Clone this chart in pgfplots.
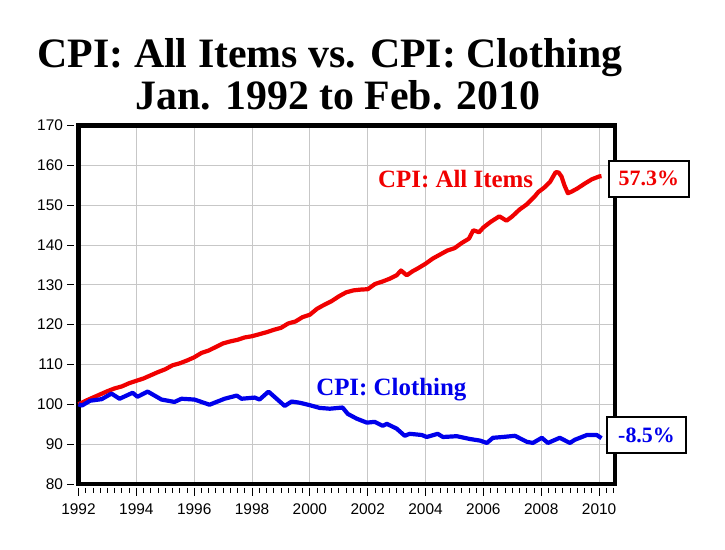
\documentclass[border=0pt]{standalone}
\usepackage{pgfplots}
\pgfplotsset{compat=1.18}
\usepackage{fontspec}
\setmainfont{Liberation Serif}
\newfontfamily\sansf{Liberation Sans}
\definecolor{cpired}{RGB}{240,0,0}
\definecolor{cpiblue}{RGB}{0,0,235}

\pgfplotstableread{
x y
1992.0 100.0
1992.25 100.9
1992.5 101.7
1992.75 102.5
1993.0 103.3
1993.25 104.0
1993.5 104.5
1993.75 105.3
1994.0 105.9
1994.25 106.5
1994.5 107.3
1994.75 108.1
1995.0 108.8
1995.25 109.8
1995.5 110.3
1995.75 111.0
1996.0 111.8
1996.25 112.9
1996.5 113.5
1996.75 114.4
1997.0 115.3
1997.25 115.8
1997.5 116.2
1997.75 116.8
1998.0 117.1
1998.25 117.6
1998.5 118.1
1998.75 118.7
1999.0 119.2
1999.25 120.3
1999.5 120.8
1999.75 121.9
2000.0 122.5
2000.25 124.0
2000.5 125.0
2000.75 125.9
2001.0 127.1
2001.25 128.1
2001.5 128.6
2001.75 128.8
2002.0 128.9
2002.25 130.2
2002.5 130.8
2002.75 131.5
2003.0 132.4
2003.15 133.6
2003.35 132.4
2003.55 133.4
2003.75 134.2
2004.0 135.3
2004.25 136.6
2004.5 137.6
2004.75 138.6
2005.0 139.2
2005.25 140.5
2005.5 141.6
2005.65 143.7
2005.85 143.2
2006.0 144.4
2006.25 145.8
2006.55 147.2
2006.8 146.1
2007.0 147.2
2007.25 148.9
2007.5 150.2
2007.75 152.0
2007.9 153.3
2008.1 154.4
2008.3 155.8
2008.5 158.3
2008.6 158.2
2008.7 157.2
2008.8 155.0
2008.92 153.0
2009.05 153.4
2009.25 154.2
2009.5 155.4
2009.75 156.5
2010.0 157.2
2010.083 157.3
}\allitems

\pgfplotstableread{
x y
1992.0 100.0
1992.12 99.7
1992.4 100.9
1992.8 101.3
1993.14 102.7
1993.42 101.4
1993.87 102.9
1994.04 101.9
1994.39 103.2
1994.87 101.2
1995.32 100.6
1995.56 101.4
1996.01 101.2
1996.53 99.9
1997.05 101.4
1997.47 102.2
1997.64 101.4
1998.09 101.7
1998.26 101.2
1998.57 103.2
1998.85 101.4
1999.13 99.6
1999.37 100.7
1999.65 100.4
1999.99 99.8
2000.34 99.1
2000.69 98.9
2001.13 99.2
2001.31 97.6
2001.62 96.4
2001.97 95.4
2002.24 95.6
2002.52 94.6
2002.66 95.1
2003.00 93.9
2003.28 92.1
2003.45 92.6
2003.87 92.3
2004.04 91.8
2004.42 92.6
2004.60 91.8
2005.08 92.0
2005.53 91.3
2005.88 90.9
2006.12 90.3
2006.33 91.6
2006.67 91.8
2007.09 92.1
2007.50 90.6
2007.71 90.3
2008.02 91.6
2008.23 90.3
2008.64 91.6
2008.99 90.3
2009.16 91.1
2009.58 92.3
2009.92 92.3
2010.083 91.5
}\clothing

\begin{document}
\begin{tikzpicture}
\useasboundingbox (0,0) rectangle (725bp,550bp);
\node[anchor=base, font=\bfseries\fontsize{42}{42}\selectfont] at (330bp,482bp) {CPI: All Items vs. CPI: Clothing};
\node[anchor=base, font=\bfseries\fontsize{42}{42}\selectfont] at (338bp,440bp) {Jan. 1992 to Feb. 2010};
% tick marks (axis decoration), set a little apart from the thick frame
\foreach \i in {0,...,74} {\draw[black, line width=0.9bp] ({78.5bp+\i*7.2305bp},62bp) -- ++(0,-5bp);}
\foreach \i in {0,...,9} {\draw[black, line width=0.9bp] ({78.5bp+\i*57.844bp},62bp) -- ++(0,-8.5bp);}
\foreach \i in {0,...,9} {\draw[black, line width=0.9bp] (73.5bp,{66bp+\i*39.833bp}) -- ++(-7bp,0);}
\begin{axis}[
  at={(78.5bp,66bp)}, anchor=south west,
  scale only axis, width=536.5bp, height=358.5bp,
  xmin=1992, xmax=2010.55, ymin=80, ymax=170,
  xtick={1992,1994,...,2010},
  ytick={80,90,...,170},
  xtick pos=left, ytick pos=left,
  xtick align=outside, ytick align=outside,
  major tick length=11bp,
  every tick/.style={draw=none},
  xmajorgrids, ymajorgrids,
  major grid style={line width=0.8bp, color=black!22},
  axis line style={line width=4.5bp},
  /pgf/number format/assume math mode=true,
  /pgf/number format/1000 sep={},
  tick label style={font=\sansf\fontsize{15.5}{15.5}\selectfont},
  xticklabel style={yshift=-5bp},
  yticklabel style={xshift=-1bp},
  clip=false,
]
\addplot[cpired, line width=4.2bp, line join=round, mark=none] table {\allitems};
\addplot[cpiblue, line width=4.2bp, line join=round, mark=none] table {\clothing};
\node[anchor=base west, text=cpired, font=\bfseries\fontsize{25}{25}\selectfont] at (axis cs:2002.24,154.4) {CPI: All Items};
\node[anchor=base west, text=cpiblue, font=\bfseries\fontsize{25}{25}\selectfont] at (axis cs:2000.10,102.2) {CPI: Clothing};
\node[draw=black, line width=2bp, fill=white, text=cpired, font=\bfseries\fontsize{22}{22}\selectfont, minimum width=80bp, minimum height=36bp, inner sep=0pt] at (axis cs:2011.72,156.65) {57.3\%};
\node[draw=black, line width=2bp, fill=white, text=cpiblue, font=\bfseries\fontsize{22}{22}\selectfont, minimum width=79bp, minimum height=36bp, inner sep=0pt] at (axis cs:2011.64,92.2) {-8.5\%};
\end{axis}
\end{tikzpicture}
\end{document}
